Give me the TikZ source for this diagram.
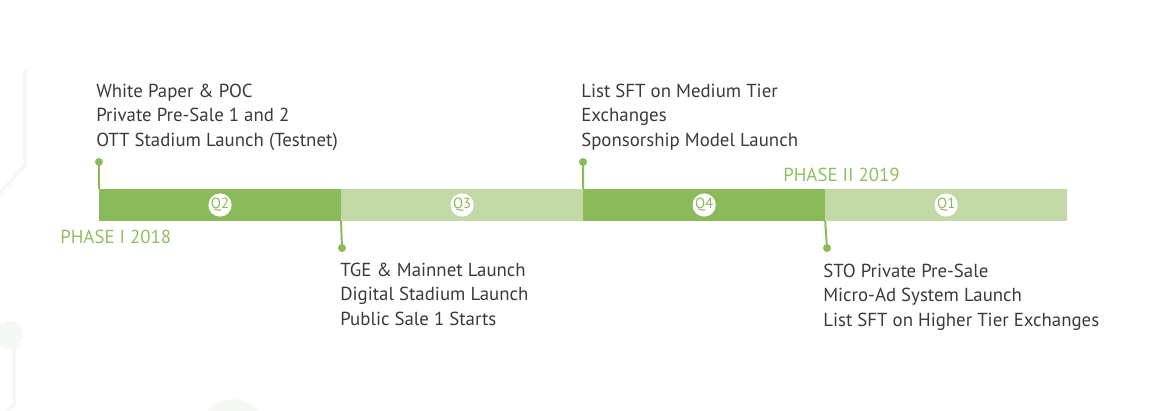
\documentclass[tikz,border=0pt]{standalone}
\usepackage{fontspec}
\setmainfont{PT Sans}
\usetikzlibrary{positioning}
\definecolor{bargreen}{HTML}{8BBA5A}
\definecolor{barlight}{HTML}{C3D8A7}
\definecolor{phasegreen}{HTML}{8DC060}
\definecolor{textgrey}{HTML}{3A3A3A}
\definecolor{decorgrey}{HTML}{F6F8F3}

\begin{document}
\begin{tikzpicture}[x = 0.025cm, y = -0.025cm,
    every node/.style = {font = \fontsize{13.4}{17.1}\selectfont, text = textgrey},
    segment/.style = {minimum height = 0.8cm, minimum width = 6.05cm, inner sep = 0, outer sep = 0},
    quarter/.style = {circle, fill = white, text = bargreen, inner sep = 0, minimum size = 0.58cm,
        font = \fontsize{10.5}{12}\selectfont},
    dot/.style = {circle, fill = bargreen, inner sep = 0, minimum size = 0.2cm},
    pin/.style = {draw = bargreen, line width = 1.4pt},
    milestone/.style = {align = left, inner sep = 0, anchor = base west},
    phase/.style = {text = phasegreen, inner sep = 0, anchor = base west}]
    \useasboundingbox (0,0) rectangle (1159,410);

    % faint background traces
    \draw[decorgrey, line width = 0.1cm] (25,70) -- (25,165) -- (0,193);
    \draw[decorgrey, line width = 0.1cm] (14,335) -- (14,405) -- (5,414);
    \fill[decorgrey] (9,335) circle (0.35cm);
    \fill[decorgrey] (233,432) circle (0.82cm);

    % the bar
    \node[segment, fill = bargreen, anchor = west] (q2) at (99,205) {};
    \node[segment, fill = barlight, right = 0pt of q2] (q3) {};
    \node[segment, fill = bargreen, right = 0pt of q3] (q4) {};
    \node[segment, fill = barlight, right = 0pt of q4] (q1) {};
    \node[quarter] at (q2) {Q2};
    \node[quarter] at (q3) {Q3};
    \node[quarter] at (q4) {Q4};
    \node[quarter] at (q1) {Q1};

    % pins
    \node[dot] (d1) at (99,162) {};
    \node[dot] (d2) at (342,248) {};
    \node[dot] (d3) at (583,162) {};
    \node[dot] (d4) at (827,248) {};
    \draw[pin] (d1.center) -- (q2.north west);
    \draw[pin] (q3.south west) -- (d2.center);
    \draw[pin] (d3.center) -- (q4.north west);
    \draw[pin] (q1.south west) -- (d4.center);

    % milestones (anchored on the last line)
    \node[milestone] (m1) at (96,146) {White Paper \& POC\\Private Pre-Sale 1 and 2\\OTT Stadium Launch (Testnet)};
    \node[milestone] (m2) at (340,325) {TGE \& Mainnet Launch\\Digital Stadium Launch\\Public Sale 1 Starts};
    \node[milestone] (m3) at (581,146) {List SFT on Medium Tier\\Exchanges\\Sponsorship Model Launch};
    \node[milestone] (m4) at (823,326) {STO Private Pre-Sale\\Micro-Ad System Launch\\List SFT on Higher Tier Exchanges};

    \node[phase] (p1) at (60,243) {PHASE I 2018};
    \node[phase] (p2) at (783,181) {PHASE II 2019};
\end{tikzpicture}
\end{document}
